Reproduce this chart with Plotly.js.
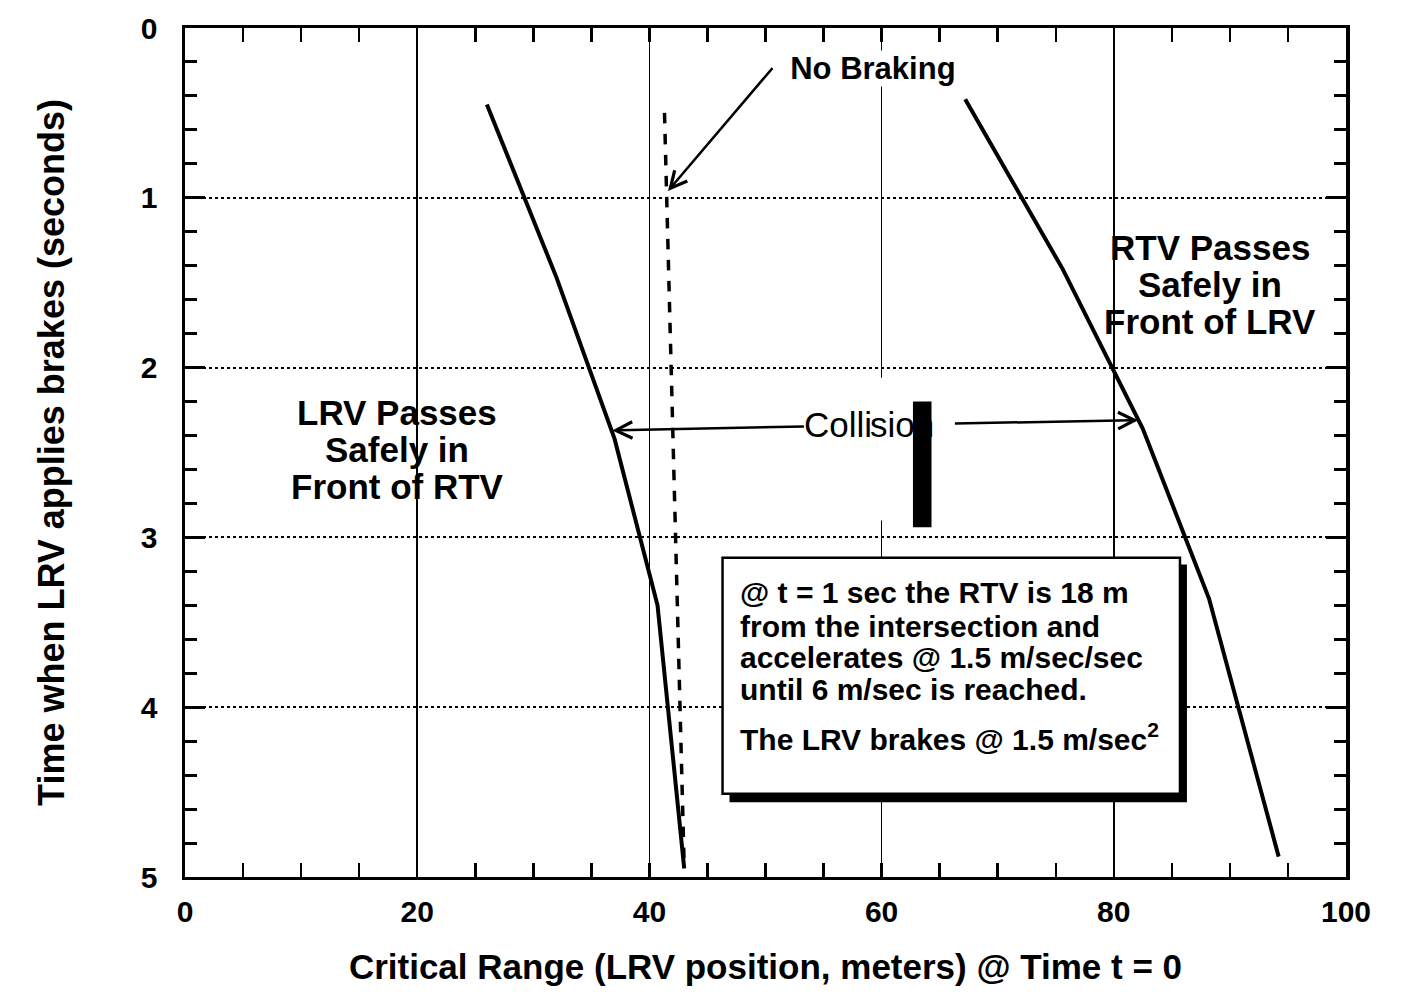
<!DOCTYPE html>
<html>
<head>
<meta charset="utf-8">
<script src="https://cdn.plot.ly/plotly-3.0.1.min.js"></script>
<style>html,body{margin:0;padding:0;background:#fff;}#chart{width:1407px;height:1002px;}</style>
</head>
<body>
<div id="chart"></div>
<script>
// Data (x = critical range in m, t = braking time in s)
const lrvSafeX = [26.0, 32, 37, 40.7, 43.0];
const lrvSafeT = [0.45, 1.47, 2.42, 3.4, 4.95];
const noBrakeX = [41.3, 43.0];
const noBrakeT = [0.5, 4.95];
const rtvSafeX = [67.2, 75.6, 82.5, 88.2, 94.2];
const rtvSafeT = [0.42, 1.42, 2.36, 3.36, 4.88];
const xTicks = [0, 20, 40, 60, 80, 100];
const yTicks = [0, 1, 2, 3, 4, 5];
const boxLines = [
  "@ t = 1 sec the RTV is 18 m",
  "from the intersection and",
  "accelerates @ 1.5 m/sec/sec",
  "until 6 m/sec is reached.",
  "The LRV brakes @ 1.5 m/sec<sup>2</sup>"
];
const lrvLabel = ["LRV Passes", "Safely in", "Front of RTV"];
const rtvLabel = ["RTV Passes", "Safely in", "Front of LRV"];

const FONT = "Liberation Sans, Arial, Helvetica, sans-serif";
const K = "#000";

const traces = [
  {x: lrvSafeX, y: lrvSafeT, mode: "lines", line: {color: K, width: 4}, hoverinfo: "skip"},
  {x: noBrakeX, y: noBrakeT, mode: "lines", line: {color: K, width: 3.5, dash: "dash"}, hoverinfo: "skip"},
  {x: rtvSafeX, y: rtvSafeT, mode: "lines", line: {color: K, width: 4}, hoverinfo: "skip"}
];

const ann = [];
function txt(x, y, text, size, xanchor) {
  ann.push({x: x, y: y, xref: "x", yref: "y", text: text, showarrow: false,
    xanchor: xanchor || "center", yanchor: "middle",
    font: {family: FONT, size: size, color: K, weight: "bold"}});
}
lrvLabel.forEach((s, i) => txt(18.3, 2.267 + i * 0.218, s, 35));
rtvLabel.forEach((s, i) => txt(88.3, 1.29 + i * 0.22, s, 35));
const boxT = [3.327, 3.522, 3.71, 3.893, 4.175];
boxLines.forEach((s, i) => txt(47.6, boxT[i], s, 30, "left"));

const arrowStyle = {showarrow: true, arrowhead: 5, arrowsize: 1.3, arrowwidth: 2.5, arrowcolor: K, borderpad: 0};
// "No Braking" label carrying its arrow to the dashed line
ann.push(Object.assign({x: 41.6, y: 0.96, xref: "x", yref: "y", ax: 50.6, ay: 0.236, axref: "x", ayref: "y",
  xanchor: "left", yanchor: "middle", text: "&nbsp;&nbsp;No Braking", bgcolor: "#fff",
  font: {family: FONT, size: 31, color: K, weight: "bold"}}, arrowStyle));
// "Collision" split in two halves, each carrying one arrow
ann.push(Object.assign({x: 36.8, y: 2.37, xref: "x", yref: "y", ax: 59.3, ay: 2.338, axref: "x", ayref: "y",
  xanchor: "right", yanchor: "middle", text: "Colli",
  font: {family: FONT, size: 35, color: K}}, arrowStyle));
ann.push(Object.assign({x: 82.1, y: 2.31, xref: "x", yref: "y", ax: 58.95, ay: 2.338, axref: "x", ayref: "y",
  xanchor: "left", yanchor: "middle", text: "sion&nbsp;&nbsp;",
  font: {family: FONT, size: 35, color: K}}, arrowStyle));

const shapes = [
  {type: "rect", xref: "x", yref: "y", x0: 58.6, x1: 64.9, y0: 2.06, y1: 2.9, fillcolor: "#fff", line: {width: 0}, layer: "above"},
  {type: "rect", xref: "x", yref: "y", x0: 62.7, x1: 64.3, y0: 2.2, y1: 2.94, fillcolor: K, line: {width: 0}, layer: "above"},
  {type: "rect", xref: "x", yref: "y", x0: 46.9, x1: 86.3, y0: 3.16, y1: 4.56, fillcolor: K, line: {width: 0}, layer: "above"},
  {type: "rect", xref: "x", yref: "y", x0: 46.3, x1: 85.7, y0: 3.12, y1: 4.51, fillcolor: "#fff", line: {color: K, width: 2.5}, layer: "above"}
];

const layout = {
  width: 1407, height: 1002,
  margin: {l: 185, r: 61, t: 28, b: 125},
  paper_bgcolor: "#fff", plot_bgcolor: "#fff",
  showlegend: false,
  font: {family: FONT, color: K},
  xaxis: {
    range: [0, 100], tickvals: xTicks, ticktext: xTicks.map(String),
    ticks: "inside", ticklen: 14, tickwidth: 2.5, tickcolor: K,
    showline: true, linecolor: K, linewidth: 3, mirror: "allticks",
    showgrid: true, gridcolor: K, gridwidth: 1.5,
    zeroline: false,
    minor: {dtick: 5, ticks: "inside", ticklen: 14, tickwidth: 2.5, tickcolor: K, showgrid: false},
    tickfont: {family: FONT, size: 30, color: K, weight: "bold"},
    ticklabelstandoff: 6,
    title: {text: "Critical Range (LRV position, meters) @ Time t = 0", standoff: 28,
      font: {family: FONT, size: 35, color: K, weight: "bold"}}
  },
  yaxis: {
    range: [5, 0], tickvals: yTicks, ticktext: yTicks.map(String),
    ticks: "inside", ticklen: 20, tickwidth: 3, tickcolor: K,
    showline: true, linecolor: K, linewidth: 3.5, mirror: "allticks",
    showgrid: true, gridcolor: K, gridwidth: 2, griddash: "dot",
    zeroline: false,
    minor: {dtick: 0.2, ticks: "inside", ticklen: 12, tickwidth: 3, tickcolor: K, showgrid: false},
    tickfont: {family: FONT, size: 30, color: K, weight: "bold"},
    ticklabelstandoff: 18,
    title: {text: "Time when LRV applies brakes (seconds)", standoff: 66,
      font: {family: FONT, size: 36, color: K, weight: "bold"}}
  },
  annotations: ann,
  shapes: shapes
};

Plotly.newPlot("chart", traces, layout, {staticPlot: true, displayModeBar: false});
</script>
</body>
</html>
